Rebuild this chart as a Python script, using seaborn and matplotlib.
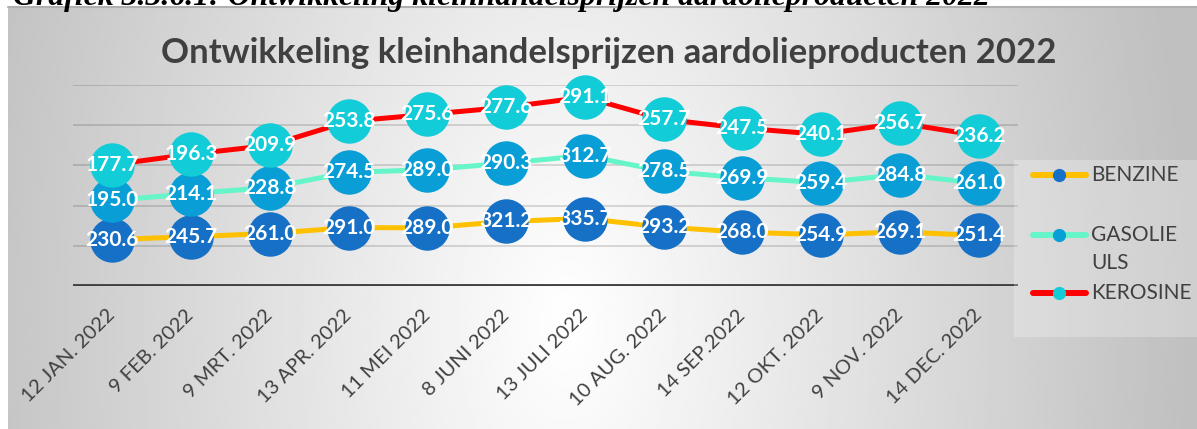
import numpy as np
import pandas as pd
import matplotlib
matplotlib.use("Agg")
import matplotlib.pyplot as plt
from matplotlib.lines import Line2D
from matplotlib.patches import Rectangle
import seaborn as sns

# Data (Excel stacked line chart)
dates = ["12 JAN. 2022", "9 FEB. 2022", "9 MRT. 2022", "13 APR. 2022",
         "11 MEI 2022", "8 JUNI 2022", "13 JULI 2022", "10 AUG. 2022",
         "14 SEP.2022", "12 OKT. 2022", "9 NOV. 2022", "14 DEC. 2022"]
benzine = [230.6, 245.7, 261.0, 291.0, 289.0, 321.2, 335.7, 293.2, 268.0, 254.9, 269.1, 251.4]
gasolie = [195.0, 214.1, 228.8, 274.5, 289.0, 290.3, 312.7, 278.5, 269.9, 259.4, 284.8, 261.0]
kerosine = [177.7, 196.3, 209.9, 253.8, 275.6, 277.6, 291.1, 257.7, 247.5, 240.1, 256.7, 236.2]
series_names = ["BENZINE", "GASOLIE ULS", "KEROSINE"]

line_colors = ["#FFC000", "#66F5C8", "#FF0000"]
marker_colors = ["#1570C6", "#0A9ED6", "#12CCD8"]
TEXT = "#404040"

W, H = 1197, 429

sns.set_style("white")
plt.rcParams["font.family"] = ["Lato", "DejaVu Sans"]

fig = plt.figure(figsize=(W / 100, H / 100), dpi=100)

# gradient background of the chart frame
bg = fig.add_axes([0, 0, 1, 1], zorder=-10)
xx, yy = np.meshgrid(np.linspace(0, 1, 400), np.linspace(0, 1, 200))
d = np.sqrt(((xx - 0.47) / 0.53) ** 2 + ((yy - 0.75) / 2.5) ** 2)
grad = 1 - 0.25 * np.clip(d, 0, 1)
bg.imshow(grad, extent=[8 / W, 1, 0, 1 - 7 / H], aspect="auto", cmap="gray",
          vmin=0, vmax=1, interpolation="bilinear")
bg.plot([8 / W, 1], [1 - 7 / H] * 2, color="#b0b0b0", lw=1.5)
bg.set_xlim(0, 1)
bg.set_ylim(0, 1)
bg.axis("off")

# caption cut off at the top of the image
fig.text(13 / W, 1 - 5 / H, "Grafiek 3.3.6.1: Ontwikkeling kleinhandelsprijzen aardolieproducten 2022",
         family="Liberation Serif", fontweight="bold", style="italic", fontsize=22.9,
         color="black", ha="left", va="baseline")

ax = fig.add_axes([73 / W, 1 - 286 / H, (1018 - 73) / W, (286 - 85) / H])
ax.patch.set_alpha(0)

df = pd.DataFrame({"pos": np.arange(len(dates)), "BENZINE": benzine,
                   "GASOLIE ULS": gasolie, "KEROSINE": kerosine})
stacked = df[series_names].cumsum(axis=1)

for yv in range(200, 1001, 200):
    ax.axhline(yv, color="black", alpha=0.15, lw=1.3, zorder=0)
ax.axhline(0, color=TEXT, lw=3.5, zorder=1)

for i, name in enumerate(series_names):
    sns.lineplot(x=df["pos"], y=stacked[name], ax=ax, color=line_colors[i], lw=3.6,
                 marker="o", markersize=32, markerfacecolor=marker_colors[i],
                 markeredgewidth=0, zorder=2 + i, clip_on=False)
    for x, yv, v in zip(df["pos"], stacked[name], df[name]):
        ax.text(x, yv, f"{v:.1f}", ha="center", va="center", color="white",
                fontweight="bold", fontsize=15, zorder=10)

ax.set_xlim(-0.5, len(dates) - 0.5)
ax.set_ylim(0, 1000)
ax.set_yticks([])
ax.set_xticks(df["pos"])
ax.set_xticklabels(dates, rotation=45, ha="right", va="center", rotation_mode="anchor",
                   fontsize=14.5, color=TEXT)
ax.tick_params(axis="x", length=0, pad=19)
ax.set_xlabel("")
ax.set_ylabel("")
sns.despine(ax=ax, left=True, bottom=True)

fig.text(609 / W, 1 - 63 / H, "Ontwikkeling kleinhandelsprijzen aardolieproducten 2022",
         ha="center", va="baseline", fontsize=25, fontweight="bold", color=TEXT)

# legend, drawn by hand to mimic Excel's layout
fig.add_artist(Rectangle((1014 / W, 1 - 337 / H), (W - 1014) / W, (337 - 160) / H,
                         transform=fig.transFigure, facecolor="white", alpha=0.25,
                         edgecolor="none"))
legend_y = [175, 235, 293]
legend_text = [["BENZINE"], ["GASOLIE", "ULS"], ["KEROSINE"]]
for i, ly in enumerate(legend_y):
    yf = 1 - ly / H
    fig.add_artist(Line2D([1033 / W, 1086 / W], [yf, yf], color=line_colors[i], lw=4.3,
                          solid_capstyle="round"))
    fig.add_artist(Line2D([1059 / W], [yf], marker="o", markersize=9.5,
                          markerfacecolor=marker_colors[i], markeredgewidth=0))
    for k, part in enumerate(legend_text[i]):
        fig.text(1091 / W, 1 - (ly + 28 * k) / H, part, ha="left", va="center",
                 fontsize=15, color=TEXT)

fig.savefig("out.png", dpi=100)
